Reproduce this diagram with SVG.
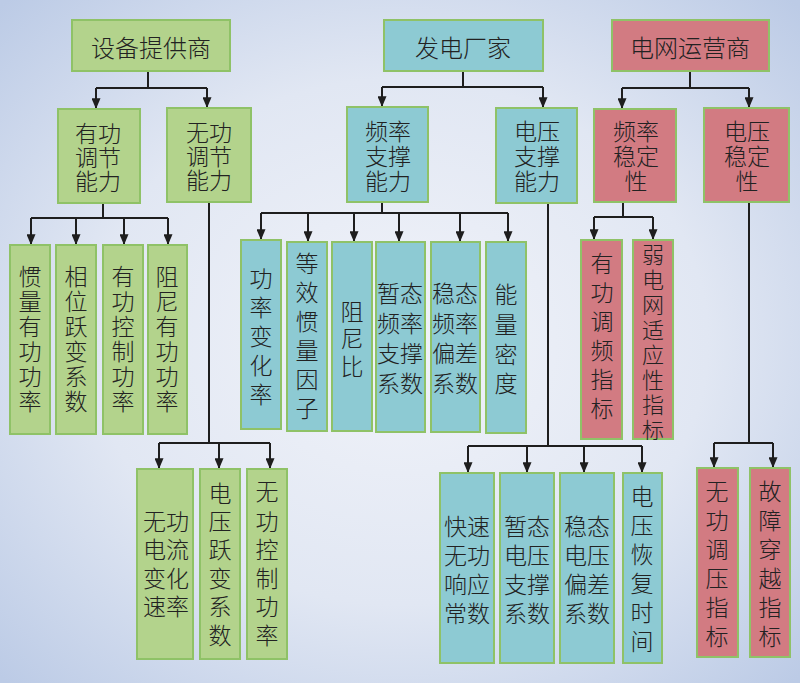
<svg xmlns="http://www.w3.org/2000/svg" width="800" height="683" viewBox="0 0 800 683">
<defs>
<radialGradient id="bg" cx="50%" cy="50%" r="70%">
<stop offset="0" stop-color="#f1f3f9"/>
<stop offset="0.55" stop-color="#e1e7f3"/>
<stop offset="1" stop-color="#bccbe6"/>
</radialGradient>
<marker id="arr" viewBox="0 0 12 10" refX="12" refY="5" markerWidth="12" markerHeight="9" markerUnits="userSpaceOnUse" orient="auto">
<path d="M0,0 L12,5 L0,10 z" fill="#1e1e1e"/>
</marker>
<style>
.g{fill:#b3d38c;stroke:#8fc267;stroke-width:2}
.b{fill:#8dcad3;stroke:#8fc267;stroke-width:2}
.r{fill:#d27b82;stroke:#8fc267;stroke-width:2}
text{font-family:"Noto Sans CJK SC","Noto Sans",sans-serif;font-weight:300;fill:#222;text-anchor:middle;dominant-baseline:central}
.t{font-size:24px}
.m{font-size:23px}
.l{font-size:23px}
.w{font-size:22px}
.c path{fill:none;stroke:#1e1e1e;stroke-width:2}
.c path.a{marker-end:url(#arr)}
</style>
</defs>
<rect width="800" height="683" fill="url(#bg)"/>

<g class="c" id="connectors">
<path d="M148,71 V88"/><path d="M96,88 H207"/>
<path class="a" d="M96,88 V109"/><path class="a" d="M207,88 V108"/>
<path d="M103,203 V218"/><path d="M31,218 H168"/>
<path class="a" d="M31,218 V245"/><path class="a" d="M76,218 V245"/><path class="a" d="M124,218 V245"/><path class="a" d="M168,218 V245"/>
<path d="M209,202 V443"/><path d="M159,443 H270"/>
<path class="a" d="M159,443 V469"/><path class="a" d="M219,443 V469"/><path class="a" d="M270,443 V469"/>

<path d="M463,71 V87"/><path d="M382,87 H543"/>
<path class="a" d="M382,87 V107"/><path class="a" d="M543,87 V108"/>
<path d="M382,202 V213"/><path d="M261,213 H508"/>
<path class="a" d="M261,213 V240"/><path class="a" d="M308,213 V242"/><path class="a" d="M354,213 V242"/><path class="a" d="M399,213 V242"/><path class="a" d="M460,213 V242"/><path class="a" d="M508,213 V242"/>
<path d="M548,203 V446"/><path d="M468,446 H642"/>
<path class="a" d="M468,446 V473"/><path class="a" d="M527,446 V473"/><path class="a" d="M584,446 V473"/><path class="a" d="M642,446 V473"/>

<path d="M690,71 V88"/><path d="M622,88 H749"/>
<path class="a" d="M622,88 V109"/><path class="a" d="M749,88 V108"/>
<path d="M623,202 V217"/><path d="M594,217 H653"/>
<path class="a" d="M594,217 V240"/><path class="a" d="M653,217 V240"/>
<path d="M749,202 V443"/><path d="M714,443 H773"/>
<path class="a" d="M714,443 V468"/><path class="a" d="M773,443 V468"/>
</g>

<g id="n_sbtgs"><rect class="g" x="72" y="20" width="158" height="51"/><text class="t" x="151" y="46">设备提供商</text></g>
<g id="n_fdcj"><rect class="b" x="384" y="20" width="159" height="51"/><text class="t" x="463" y="46">发电厂家</text></g>
<g id="n_dwyys"><rect class="r" x="612" y="20" width="157" height="51"/><text class="t" x="690" y="46">电网运营商</text></g>

<g id="n_ygtj"><rect class="g" x="58" y="109" width="82" height="94"/><text class="m"><tspan x="98" y="132">有功</tspan><tspan x="98" y="156">调节</tspan><tspan x="98" y="180">能力</tspan></text></g>
<g id="n_wgtj"><rect class="g" x="167" y="108" width="84" height="94"/><text class="m"><tspan x="209" y="131">无功</tspan><tspan x="209" y="155">调节</tspan><tspan x="209" y="179">能力</tspan></text></g>
<g id="n_plzc"><rect class="b" x="347" y="107" width="81" height="95"/><text class="m"><tspan x="388" y="130">频率</tspan><tspan x="388" y="155">支撑</tspan><tspan x="388" y="180">能力</tspan></text></g>
<g id="n_dyzc"><rect class="b" x="496" y="108" width="81" height="95"/><text class="m"><tspan x="537" y="130">电压</tspan><tspan x="537" y="155">支撑</tspan><tspan x="537" y="180">能力</tspan></text></g>
<g id="n_plwd"><rect class="r" x="594" y="109" width="82" height="93"/><text class="m"><tspan x="636" y="130">频率</tspan><tspan x="636" y="155">稳定</tspan><tspan x="636" y="180">性</tspan></text></g>
<g id="n_dywd"><rect class="r" x="704" y="108" width="85" height="94"/><text class="m"><tspan x="747" y="130">电压</tspan><tspan x="747" y="155">稳定</tspan><tspan x="747" y="180">性</tspan></text></g>

<g id="n_l1"><rect class="g" x="10" y="245" width="40" height="189"/><text class="l"><tspan x="30" y="275">惯</tspan><tspan x="30" y="300">量</tspan><tspan x="30" y="325">有</tspan><tspan x="30" y="350">功</tspan><tspan x="30" y="375">功</tspan><tspan x="30" y="400">率</tspan></text></g>
<g id="n_l2"><rect class="g" x="56" y="245" width="40" height="189"/><text class="l"><tspan x="76" y="275">相</tspan><tspan x="76" y="300">位</tspan><tspan x="76" y="325">跃</tspan><tspan x="76" y="350">变</tspan><tspan x="76" y="375">系</tspan><tspan x="76" y="400">数</tspan></text></g>
<g id="n_l3"><rect class="g" x="103" y="245" width="40" height="189"/><text class="l"><tspan x="123" y="275">有</tspan><tspan x="123" y="300">功</tspan><tspan x="123" y="325">控</tspan><tspan x="123" y="350">制</tspan><tspan x="123" y="375">功</tspan><tspan x="123" y="400">率</tspan></text></g>
<g id="n_l4"><rect class="g" x="148" y="245" width="39" height="189"/><text class="l"><tspan x="167" y="275">阻</tspan><tspan x="167" y="300">尼</tspan><tspan x="167" y="325">有</tspan><tspan x="167" y="350">功</tspan><tspan x="167" y="375">功</tspan><tspan x="167" y="400">率</tspan></text></g>

<g id="n_l5"><rect class="b" x="241" y="240" width="40" height="189"/><text class="l"><tspan x="261" y="277">功</tspan><tspan x="261" y="306">率</tspan><tspan x="261" y="335">变</tspan><tspan x="261" y="364">化</tspan><tspan x="261" y="393">率</tspan></text></g>
<g id="n_l6"><rect class="b" x="287" y="242" width="40" height="189"/><text class="l"><tspan x="307" y="262">等</tspan><tspan x="307" y="291">效</tspan><tspan x="307" y="320">惯</tspan><tspan x="307" y="349">量</tspan><tspan x="307" y="378">因</tspan><tspan x="307" y="407">子</tspan></text></g>
<g id="n_l7"><rect class="b" x="332" y="242" width="40" height="189"/><text class="l"><tspan x="352" y="310">阻</tspan><tspan x="352" y="337">尼</tspan><tspan x="352" y="365">比</tspan></text></g>
<g id="n_l8"><rect class="b" x="376" y="242" width="49" height="190"/><text class="l"><tspan x="400" y="292">暂态</tspan><tspan x="400" y="322">频率</tspan><tspan x="400" y="352">支撑</tspan><tspan x="400" y="382">系数</tspan></text></g>
<g id="n_l9"><rect class="b" x="431" y="242" width="49" height="190"/><text class="l"><tspan x="455" y="292">稳态</tspan><tspan x="455" y="322">频率</tspan><tspan x="455" y="352">偏差</tspan><tspan x="455" y="382">系数</tspan></text></g>
<g id="n_l10"><rect class="b" x="486" y="242" width="40" height="191"/><text class="l"><tspan x="506" y="293">能</tspan><tspan x="506" y="323">量</tspan><tspan x="506" y="353">密</tspan><tspan x="506" y="382">度</tspan></text></g>

<g id="n_l11"><rect class="r" x="581" y="240" width="41" height="199"/><text class="l"><tspan x="602" y="262">有</tspan><tspan x="602" y="291">功</tspan><tspan x="602" y="320">调</tspan><tspan x="602" y="349">频</tspan><tspan x="602" y="378">指</tspan><tspan x="602" y="407">标</tspan></text></g>
<g id="n_l12"><rect class="r" x="633" y="240" width="40" height="199"/><text class="w"><tspan x="653" y="253">弱</tspan><tspan x="653" y="278">电</tspan><tspan x="653" y="303">网</tspan><tspan x="653" y="328">适</tspan><tspan x="653" y="353">应</tspan><tspan x="653" y="378">性</tspan><tspan x="653" y="403">指</tspan><tspan x="653" y="428">标</tspan></text></g>

<g id="n_l13"><rect class="g" x="137" y="469" width="56" height="190"/><text class="l"><tspan x="166" y="520">无功</tspan><tspan x="166" y="548">电流</tspan><tspan x="166" y="577">变化</tspan><tspan x="166" y="605">速率</tspan></text></g>
<g id="n_l14"><rect class="g" x="200" y="469" width="40" height="190"/><text class="l"><tspan x="220" y="492">电</tspan><tspan x="220" y="520">压</tspan><tspan x="220" y="548">跃</tspan><tspan x="220" y="577">变</tspan><tspan x="220" y="605">系</tspan><tspan x="220" y="634">数</tspan></text></g>
<g id="n_l15"><rect class="g" x="247" y="469" width="40" height="190"/><text class="l"><tspan x="267" y="490">无</tspan><tspan x="267" y="520">功</tspan><tspan x="267" y="548">控</tspan><tspan x="267" y="577">制</tspan><tspan x="267" y="605">功</tspan><tspan x="267" y="634">率</tspan></text></g>

<g id="n_l16"><rect class="b" x="440" y="473" width="54" height="190"/><text class="l"><tspan x="467" y="525">快速</tspan><tspan x="467" y="554">无功</tspan><tspan x="467" y="583">响应</tspan><tspan x="467" y="612">常数</tspan></text></g>
<g id="n_l17"><rect class="b" x="500" y="473" width="54" height="190"/><text class="l"><tspan x="527" y="525">暂态</tspan><tspan x="527" y="554">电压</tspan><tspan x="527" y="583">支撑</tspan><tspan x="527" y="612">系数</tspan></text></g>
<g id="n_l18"><rect class="b" x="560" y="473" width="54" height="190"/><text class="l"><tspan x="587" y="525">稳态</tspan><tspan x="587" y="554">电压</tspan><tspan x="587" y="583">偏差</tspan><tspan x="587" y="612">系数</tspan></text></g>
<g id="n_l19"><rect class="b" x="623" y="473" width="39" height="190"/><text class="l"><tspan x="642" y="495">电</tspan><tspan x="642" y="524">压</tspan><tspan x="642" y="553">恢</tspan><tspan x="642" y="582">复</tspan><tspan x="642" y="611">时</tspan><tspan x="642" y="640">间</tspan></text></g>

<g id="n_l20"><rect class="r" x="697" y="468" width="41" height="189"/><text class="l"><tspan x="717" y="490">无</tspan><tspan x="717" y="519">功</tspan><tspan x="717" y="548">调</tspan><tspan x="717" y="577">压</tspan><tspan x="717" y="606">指</tspan><tspan x="717" y="635">标</tspan></text></g>
<g id="n_l21"><rect class="r" x="750" y="468" width="40" height="189"/><text class="l"><tspan x="770" y="490">故</tspan><tspan x="770" y="519">障</tspan><tspan x="770" y="548">穿</tspan><tspan x="770" y="577">越</tspan><tspan x="770" y="606">指</tspan><tspan x="770" y="635">标</tspan></text></g>
</svg>
